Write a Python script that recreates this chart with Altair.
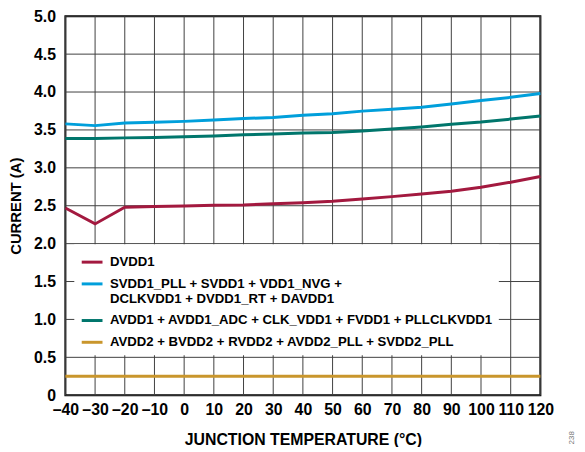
import altair as alt
import pandas as pd

temps = [-40, -30, -20, -10, 0, 10, 20, 30, 40, 50, 60, 70, 80, 90, 100, 110, 120]
dvdd1 = [2.47, 2.26, 2.48, 2.49, 2.495, 2.505, 2.51, 2.525, 2.54, 2.56, 2.59, 2.62, 2.655, 2.69, 2.745, 2.81, 2.885]
svdd1 = [3.58, 3.557, 3.59, 3.60, 3.613, 3.63, 3.65, 3.665, 3.695, 3.713, 3.748, 3.774, 3.80, 3.843, 3.887, 3.93, 3.98]
avdd1 = [3.387, 3.387, 3.395, 3.40, 3.41, 3.42, 3.435, 3.447, 3.46, 3.465, 3.487, 3.513, 3.54, 3.574, 3.604, 3.643, 3.683]
avdd2 = [0.25, 0.25, 0.25, 0.25, 0.25, 0.25, 0.25, 0.25, 0.25, 0.25, 0.25, 0.25, 0.25, 0.25, 0.25, 0.25, 0.25]

series_names = [
    "DVDD1",
    "SVDD1_PLL + SVDD1 + VDD1_NVG +|DCLKVDD1 + DVDD1_RT + DAVDD1",
    "AVDD1 + AVDD1_ADC + CLK_VDD1 + FVDD1 + PLLCLKVDD1",
    "AVDD2 + BVDD2 + RVDD2 + AVDD2_PLL + SVDD2_PLL",
]
series_colors = ["#A3193F", "#009FDB", "#00766C", "#C9962C"]

x_ticks = [-40, -30, -20, -10, 0, 10, 20, 30, 40, 50, 60, 70, 80, 90, 100, 110, 120]
y_ticks = [0, 0.5, 1, 1.5, 2, 2.5, 3, 3.5, 4, 4.5, 5]

rows = []
for name, vals in zip(series_names, [dvdd1, svdd1, avdd1, avdd2]):
    for t, v in zip(temps, vals):
        rows.append({"temp": t, "current": v, "series": name})
df = pd.DataFrame(rows)

FONT = "Liberation Sans"
GRID = "#404040"

xscale = alt.Scale(domain=[-40, 120], nice=False)
yscale = alt.Scale(domain=[0, 5], nice=False)

x_axis = alt.Axis(
    values=x_ticks,
    title="JUNCTION TEMPERATURE (°C)",
    labelExpr="datum.value < 0 ? '\u2013' + abs(datum.value) : '' + datum.value",
    labelFontSize=16,
    labelFontWeight="bold",
    labelFont=FONT,
    labelColor="black",
    labelPadding=6,
    labelOverlap=False,
    titleFontSize=16,
    titleFontWeight="bold",
    titleFont=FONT,
    titleColor="black",
    titlePadding=15,
    grid=False,
    domain=False,
    ticks=False,
    labelFlush=False,
)
y_axis = alt.Axis(
    values=y_ticks,
    title="CURRENT (A)",
    labelExpr="datum.value == 0 ? '0' : format(datum.value, '.1f')",
    labelFontSize=16,
    labelFontWeight="bold",
    labelFont=FONT,
    labelColor="black",
    labelPadding=10,
    labelOverlap=False,
    titleFontSize=15,
    titleFontWeight="bold",
    titleFont=FONT,
    titleColor="black",
    titlePadding=10,
    grid=False,
    domain=False,
    ticks=False,
    labelFlush=False,
)

vgrid = alt.Chart(pd.DataFrame({"temp": x_ticks})).mark_rule(
    color=GRID, strokeWidth=1, opacity=1
).encode(x=alt.X("temp:Q", scale=xscale, axis=x_axis))

hgrid = alt.Chart(pd.DataFrame({"current": y_ticks})).mark_rule(
    color=GRID, strokeWidth=1, opacity=1
).encode(y=alt.Y("current:Q", scale=yscale, axis=y_axis))

lines = alt.Chart(df).mark_line(strokeWidth=3).encode(
    x=alt.X("temp:Q", scale=xscale, axis=x_axis),
    y=alt.Y("current:Q", scale=yscale, axis=y_axis),
    color=alt.Color(
        "series:N",
        scale=alt.Scale(domain=series_names, range=series_colors),
        sort=series_names,
        legend=alt.Legend(
            title=None,
            orient="none",
            legendX=9,
            legendY=230.5,
            fillColor="white",
            padding=6,
            symbolType="stroke",
            symbolSize=441,
            symbolStrokeWidth=3,
            labelFontSize=13.3,
            labelFontWeight="bold",
            labelFont=FONT,
            labelColor="black",
            labelLimit=600,
            labelOffset=6,
            labelExpr="split(datum.label, '|')",
            rowPadding=3,
        ),
    ),
)

note = alt.Chart(pd.DataFrame([{"t": "238"}])).mark_text(
    angle=270, fontSize=8, color="#777777", font=FONT
).encode(x=alt.value(512), y=alt.value(426), text="t:N")

chart = (
    alt.layer(vgrid, hgrid, lines, note)
    .properties(
        width=480,
        height=383,
        autosize=alt.AutoSizeParams(type="none"),
        padding={"left": 58, "top": 6, "right": 37, "bottom": 50},
    )
    .configure_view(stroke="black", strokeWidth=2)
)

chart.save("out.html", embed_options={"renderer": "svg", "actions": False})
